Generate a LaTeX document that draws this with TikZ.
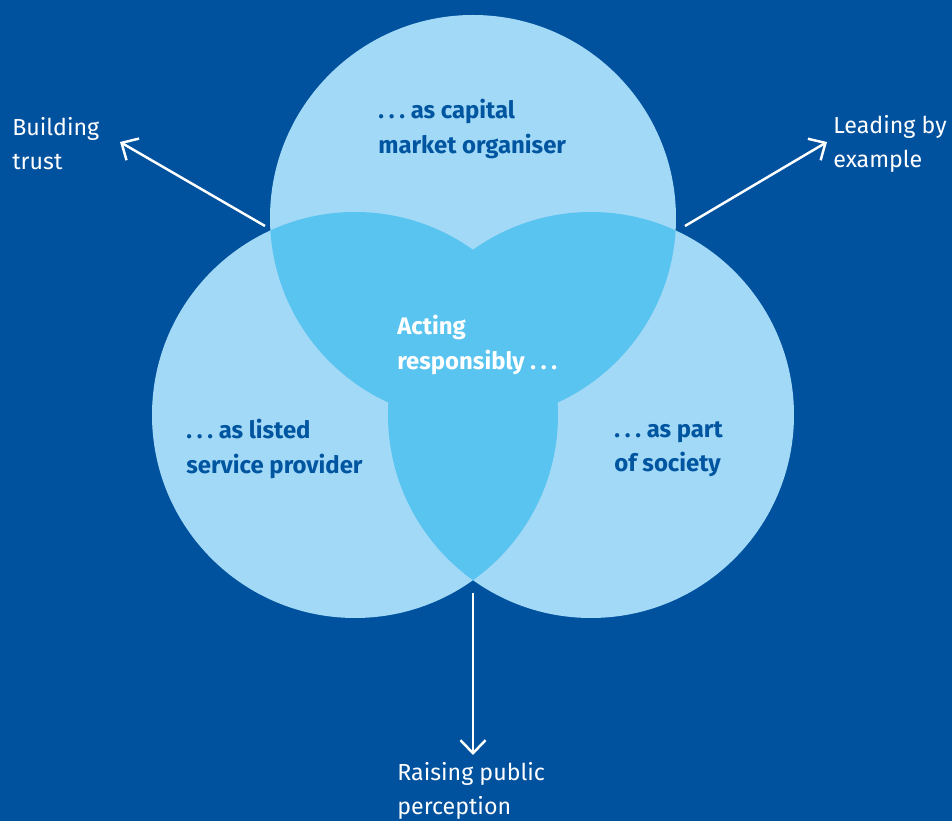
\documentclass[tikz,border=0pt]{standalone}
\usepackage{fontspec}
\setmainfont{Fira Sans}
\usetikzlibrary{arrows.meta}
\definecolor{bgblue}{HTML}{00519E}
\definecolor{ringblue}{HTML}{A2D9F7}
\definecolor{lensblue}{HTML}{5AC4F0}
\definecolor{textblue}{HTML}{0055A0}
\newcommand\spreaddots{.\kern0.2em.\kern0.2em.}
\tikzstyle{role}=[align=left,anchor=west,text=textblue,font=\fontsize{13.6}{19.4}\selectfont\bfseries,inner sep=0pt]
\tikzstyle{core}=[role,text=white]
\tikzstyle{effect}=[align=left,anchor=west,text=white,font=\fontsize{13.2}{19.4}\selectfont,inner sep=0pt]
\tikzstyle{push}=[draw=white,line width=1.4pt,-{Straight Barb[length=2.6mm,width=5mm]}]

\begin{document}
\begin{tikzpicture}
  \def\r{4.06}
  \fill[bgblue] (0,0) rectangle (19.04,16.42);
  \useasboundingbox (0,0) rectangle (19.04,16.42);
  \coordinate (top centre) at (9.46,12.06);
  \coordinate (left centre) at (7.10,8.12);
  \coordinate (right centre) at (11.82,8.12);

  \foreach \c in {top,left,right} {
    \fill[ringblue] (\c \space centre) circle (\r);
  }
  % overlaps
  \foreach \a/\b in {top/left,top/right,left/right} {
    \begin{scope}
      \clip (\a \space centre) circle (\r);
      \fill[lensblue] (\b \space centre) circle (\r);
    \end{scope}
  }

  \node[role] (capital) at (7.56,13.84) {\spreaddots\ as capital\\market organiser};
  \node[core] (acting) at (7.94,9.52) {Acting\\responsibly \spreaddots};
  \node[role] (listed) at (3.72,7.44) {\spreaddots\ as listed\\service provider};
  \node[role] (society) at (12.28,7.44) {\spreaddots\ as part\\of society};

  \node[effect] (trust) at (0.24,13.54) {Building\\trust};
  \node[effect] (leading) at (16.66,13.54) {Leading by\\example};
  \node[effect] (public) at (7.94,0.60) {Raising public\\perception};

  \coordinate (trust start) at (5.30,11.90);
  \coordinate (trust end) at (2.40,13.58);
  \coordinate (leading start) at (13.70,11.90);
  \coordinate (leading end) at (16.54,13.58);
  \coordinate (public start) at (9.46,4.56);
  \coordinate (public end) at (9.46,1.32);
  \foreach \x in {trust,leading,public} {
    \draw[push] (\x \space start) -- (\x \space end);
  }
\end{tikzpicture}
\end{document}
